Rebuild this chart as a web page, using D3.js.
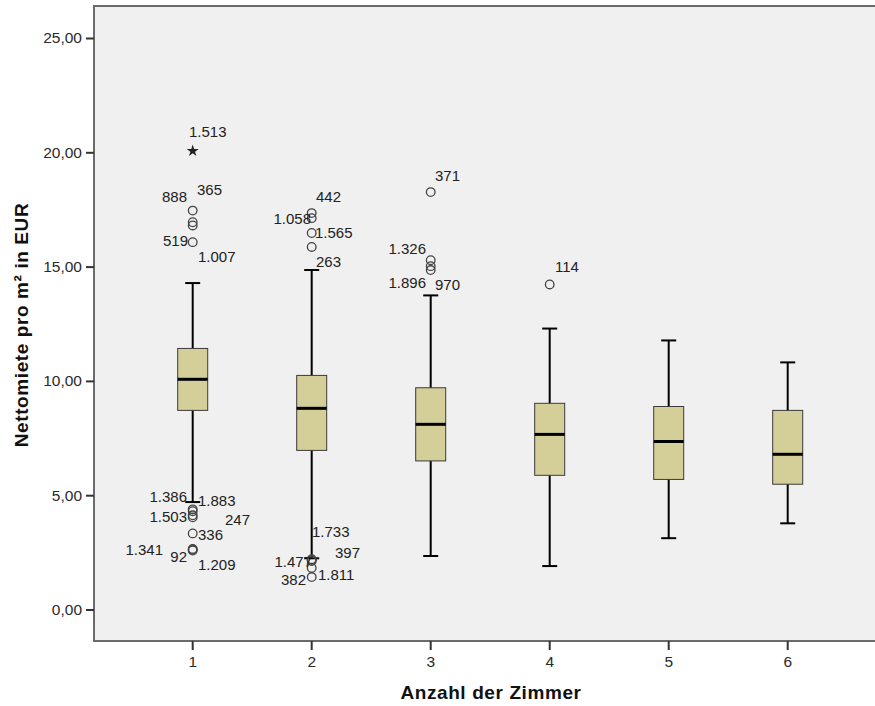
<!DOCTYPE html>
<html>
<head>
<meta charset="utf-8">
<script src="https://cdn.jsdelivr.net/npm/d3@7"></script>
<style>
  body { margin: 0; background: #fff; }
  svg text { font-family: "Liberation Sans", Arial, sans-serif; }
</style>
</head>
<body>
<div id="chart"></div>
<script>
// box summaries per room count
const categories = ['1', '2', '3', '4', '5', '6'];
const whiskerLow = [4.70, 2.24, 2.34, 1.90, 3.12, 3.77];
const q1 = [8.71, 6.96, 6.50, 5.87, 5.69, 5.48];
const medians = [10.07, 8.80, 8.10, 7.66, 7.35, 6.79];
const q3 = [11.42, 10.24, 9.70, 9.02, 8.88, 8.71];
const whiskerHigh = [14.28, 14.85, 13.74, 12.29, 11.77, 10.81];

// outliers: group, value, case id, kind (o = outlier, x = extreme)
const outlierGroup = ['1', '1', '1', '1', '1', '1', '1', '1', '1', '1', '1', '1', '1',
  '2', '2', '2', '2', '2', '2', '2', '2', '2', '3', '3', '3', '3', '4'];
const outlierValue = [20.06, 17.45, 16.94, 16.80, 16.07, 4.38, 4.30, 4.12, 4.03, 3.33, 2.65, 2.62, 2.58,
  17.34, 17.12, 16.47, 15.86, 2.20, 2.12, 2.17, 1.82, 1.42, 18.26, 15.28, 15.02, 14.85, 14.22];
const outlierId = ['1.513', '888', '365', '1.007', '519', '1.386', '1.883', '1.503', '247', '336', '1.341', '92', '1.209',
  '442', '1.058', '1.565', '263', '1.733', '397', '1.477', '1.811', '382', '371', '1.326', '970', '1.896', '114'];
const outlierKind = ['x', 'o', 'o', 'o', 'o', 'o', 'o', 'o', 'o', 'o', 'o', 'o', 'o',
  'o', 'o', 'o', 'o', 'o', 'o', 'o', 'o', 'o', 'o', 'o', 'o', 'o', 'o'];

const yTicks = [0, 5, 10, 15, 20, 25];

// label nudges (dx, dy from the marker, anchor) - SPSS style placement
const labelNudge = {
  '1.513': [-3.7, -13.9, 'start'], '888': [-5.7, -8.6, 'end'], '365': [4.3, -27.3, 'start'],
  '1.007': [5.3, 36.5, 'start'], '519': [-4.7, 3.9, 'end'],
  '1.386': [-5.7, -7.4, 'end'], '1.883': [5.3, -5.2, 'start'], '1.503': [-5.7, 6.7, 'end'],
  '247': [32.3, 7.6, 'start'], '336': [5.3, 6.6, 'start'], '1.341': [-29.7, 6.1, 'end'],
  '92': [-5.7, 12.4, 'end'], '1.209': [5.3, 19.5, 'start'],
  '442': [4.3, -11.1, 'start'], '1.058': [-0.7, 5.9, 'end'], '1.565': [3.3, 5, 'start'],
  '263': [4.3, 20.1, 'start'], '1.733': [0.3, -22.2, 'start'], '397': [23.3, -3, 'start'],
  '1.477': [0.3, 7.1, 'end'], '1.811': [6.3, 12.1, 'start'], '382': [-5.7, 8, 'end'],
  '371': [4.3, -11.1, 'start'], '1.326': [-4.7, -6.2, 'end'], '970': [4.3, 23.9, 'start'],
  '1.896': [-4.7, 18, 'end'], '114': [5.3, -12.4, 'start']
};

const width = 875, height = 706;
const plot = {left: 94, top: 6, right: 890, bottom: 641};

const svg = d3.select('#chart').append('svg')
  .attr('width', width)
  .attr('height', height);

const x = d3.scaleBand().domain(categories).range([133.2, 847.2]);
const y = d3.scaleLinear().domain([0, 25]).range([609.5, 38]);
const cx = c => x(c) + x.bandwidth() / 2;

// plot frame
svg.append('rect')
  .attr('x', plot.left).attr('y', plot.top)
  .attr('width', plot.right - plot.left).attr('height', plot.bottom - plot.top)
  .attr('fill', '#f0f0f0')
  .attr('stroke', '#6a6a6a')
  .attr('stroke-width', 2);

// axes
const fmt = d => d3.format('.2f')(d).replace('.', ',');
const yAxis = svg.append('g')
  .attr('transform', `translate(${plot.left},0)`)
  .call(d3.axisLeft(y).tickValues(yTicks).tickFormat(fmt).tickSize(8).tickPadding(4));
const xAxis = svg.append('g')
  .attr('transform', `translate(0,${plot.bottom})`)
  .call(d3.axisBottom(x).tickSize(9).tickPadding(6));

[yAxis, xAxis].forEach(g => {
  g.select('.domain').remove();
  g.selectAll('.tick line').attr('stroke', '#333').attr('stroke-width', 2);
  g.selectAll('.tick text').attr('fill', '#2a2a2a').attr('font-size', 15.5);
});

// boxes
const groups = categories.map((c, i) => ({
  c, lo: whiskerLow[i], q1: q1[i], med: medians[i], q3: q3[i], hi: whiskerHigh[i]
}));
const boxW = 30, capW = 15;

const g = svg.append('g');
const box = g.selectAll('.box').data(groups).enter().append('g').attr('class', 'box');

box.append('line')
  .attr('x1', d => cx(d.c)).attr('x2', d => cx(d.c))
  .attr('y1', d => y(d.hi)).attr('y2', d => y(d.lo))
  .attr('stroke', '#000').attr('stroke-width', 2);

['hi', 'lo'].forEach(k => {
  box.append('line')
    .attr('x1', d => cx(d.c) - capW / 2).attr('x2', d => cx(d.c) + capW / 2)
    .attr('y1', d => y(d[k])).attr('y2', d => y(d[k]))
    .attr('stroke', '#000').attr('stroke-width', 2);
});

box.append('rect')
  .attr('x', d => cx(d.c) - boxW / 2)
  .attr('y', d => y(d.q3))
  .attr('width', boxW)
  .attr('height', d => y(d.q1) - y(d.q3))
  .attr('fill', '#d4cf98')
  .attr('stroke', '#3a3a3a')
  .attr('stroke-width', 1);

box.append('line')
  .attr('x1', d => cx(d.c) - boxW / 2).attr('x2', d => cx(d.c) + boxW / 2)
  .attr('y1', d => y(d.med)).attr('y2', d => y(d.med))
  .attr('stroke', '#000').attr('stroke-width', 3);

// outliers
const outliers = outlierId.map((id, i) => ({
  id, c: outlierGroup[i], v: outlierValue[i], kind: outlierKind[i]
}));

g.selectAll('.out').data(outliers.filter(d => d.kind === 'o')).enter()
  .append('circle')
  .attr('class', 'out')
  .attr('cx', d => cx(d.c)).attr('cy', d => y(d.v))
  .attr('r', 4.3)
  .attr('fill', 'none')
  .attr('stroke', '#444')
  .attr('stroke-width', 1.3);

g.selectAll('.ext').data(outliers.filter(d => d.kind === 'x')).enter()
  .append('path')
  .attr('class', 'ext')
  .attr('d', d3.symbol(d3.symbolStar).size(45))
  .attr('transform', d => `translate(${cx(d.c)},${y(d.v)})`)
  .attr('fill', '#222');

g.selectAll('.lbl').data(outliers).enter()
  .append('text')
  .attr('class', 'lbl')
  .attr('x', d => cx(d.c) + labelNudge[d.id][0])
  .attr('y', d => y(d.v) + labelNudge[d.id][1])
  .attr('text-anchor', d => labelNudge[d.id][2])
  .attr('font-size', 15)
  .attr('fill', '#222')
  .text(d => d.id);

// axis titles
svg.append('text')
  .attr('x', 491).attr('y', 699)
  .attr('text-anchor', 'middle')
  .attr('font-size', 19).attr('font-weight', 'bold')
  .attr('letter-spacing', 0.6)
  .attr('fill', '#111')
  .text('Anzahl der Zimmer');

svg.append('text')
  .attr('transform', 'translate(28,325) rotate(-90)')
  .attr('text-anchor', 'middle')
  .attr('font-size', 19).attr('font-weight', 'bold')
  .attr('letter-spacing', 0.6)
  .attr('fill', '#111')
  .text('Nettomiete pro m² in EUR');
</script>
</body>
</html>
